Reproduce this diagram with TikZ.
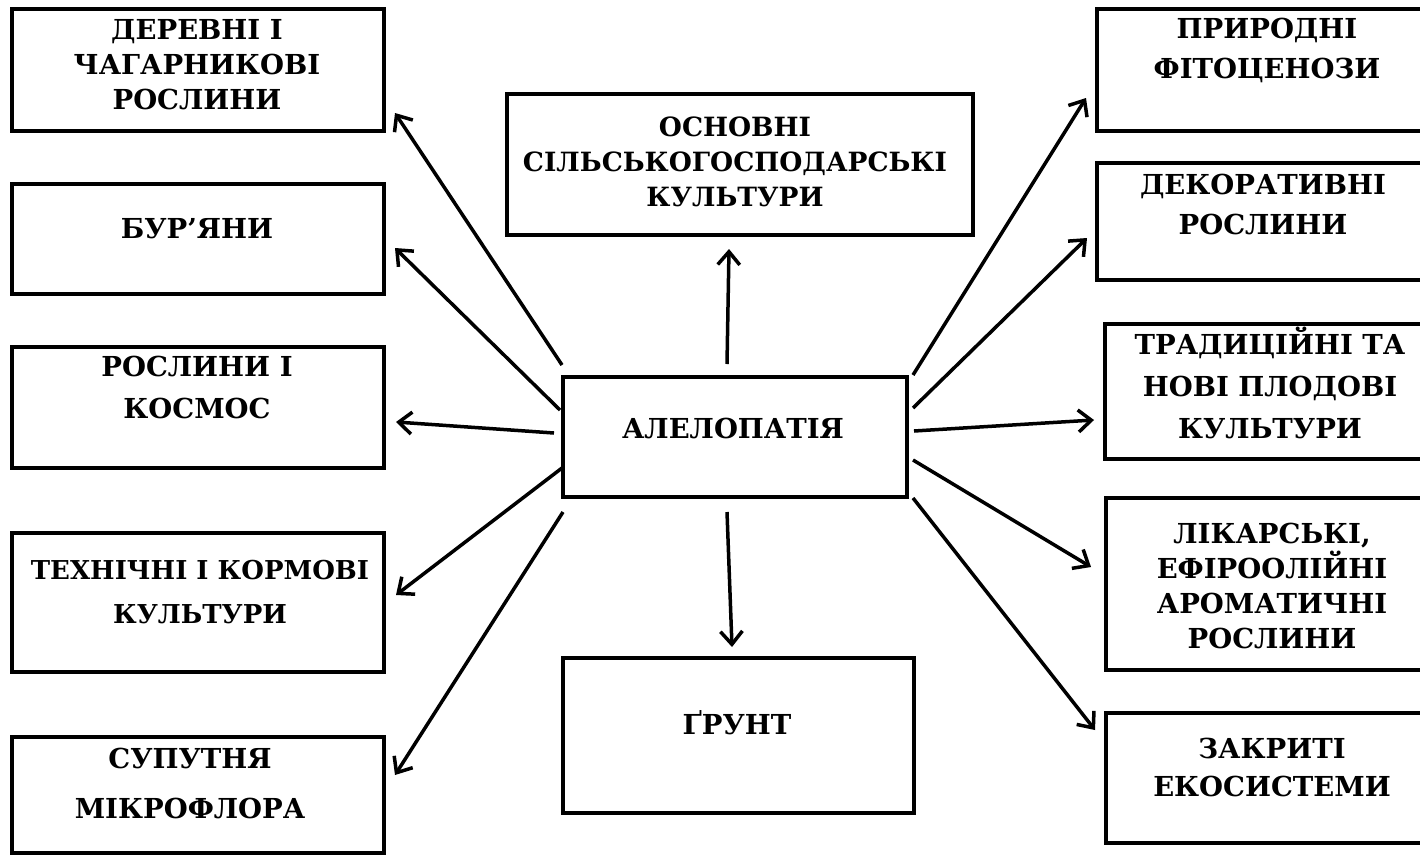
\documentclass[tikz,border=0pt]{standalone}
\usepackage{fontspec}
\setmainfont{DejaVu Serif}
\usetikzlibrary{arrows.meta}
\newcommand{\mystrut}{\rule{0pt}{30pt}}
\begin{document}
\begin{tikzpicture}[x=1pt,y=-1pt,
  box/.style={rectangle, draw, line width=3.8pt, inner sep=0pt},
  lbl/.style={anchor=north, align=center, inner sep=0pt, font=\bfseries\fontsize{27.5}{#1}\selectfont},
  lbl/.default=35,
  arr/.style={line width=3.5pt, -{Straight Barb[length=13pt,width=22pt]}}]
\clip (0,0) rectangle (1420,854);
\fill[white] (0,0) rectangle (1420,854);
% boxes
\node[box, minimum width=372pt, minimum height=122pt] (b1) at (198,70) {};
\node[box, minimum width=372pt, minimum height=110pt] (b2) at (198,239) {};
\node[box, minimum width=372pt, minimum height=121pt] (b3) at (198,407.5) {};
\node[box, minimum width=372pt, minimum height=139pt] (b4) at (198,602.5) {};
\node[box, minimum width=372pt, minimum height=116pt] (b5) at (198,795) {};
\node[box, minimum width=466pt, minimum height=141pt] (ctop) at (740,164.5) {};
\node[box, minimum width=344pt, minimum height=120pt] (alel) at (735,437) {};
\node[box, minimum width=351pt, minimum height=155pt] (grunt) at (738.5,735.5) {};
\node[box, minimum width=343pt, minimum height=122pt] (r1) at (1268.5,70) {};
\node[box, minimum width=343pt, minimum height=117pt] (r2) at (1268.5,221.5) {};
\node[box, minimum width=335pt, minimum height=135pt] (r3) at (1272.5,391.5) {};
\node[box, minimum width=334pt, minimum height=172pt] (r4) at (1273,584) {};
\node[box, minimum width=334pt, minimum height=130pt] (r5) at (1273,778) {};
% labels
\node[lbl] (t1) at (197,9) {\mystrut ДЕРЕВНІ І\\ЧАГАРНИКОВІ\\РОСЛИНИ};
\node[lbl] (t2) at (197,208) {\mystrut БУР’ЯНИ};
\node[lbl=42] (t3) at (197,346) {\mystrut РОСЛИНИ І\\КОСМОС};
\node[lbl=44, font=\bfseries\fontsize{26}{44}\selectfont] (t4) at (200,549) {\mystrut ТЕХНІЧНІ І КОРМОВІ\\КУЛЬТУРИ};
\node[lbl=50] (t5) at (190,738) {\mystrut СУПУТНЯ\\МІКРОФЛОРА};
\node[lbl, font=\bfseries\fontsize{26.5}{35}\selectfont] (t6) at (735,106) {\mystrut ОСНОВНІ\\СІЛЬСЬКОГОСПОДАРСЬКІ\\КУЛЬТУРИ};
\node[lbl] (t7) at (733,408) {\mystrut АЛЕЛОПАТІЯ};
\node[lbl] (t8) at (737,704) {\mystrut ҐРУНТ};
\node[lbl=40] (t9) at (1267,8) {\mystrut ПРИРОДНІ\\ФІТОЦЕНОЗИ};
\node[lbl=40] (t10) at (1263,164) {\mystrut ДЕКОРАТИВНІ\\РОСЛИНИ};
\node[lbl=42] (t11) at (1270,324) {\mystrut ТРАДИЦІЙНІ ТА\\НОВІ ПЛОДОВІ\\КУЛЬТУРИ};
\node[lbl] (t12) at (1272,513) {\mystrut ЛІКАРСЬКІ,\\ЕФІРООЛІЙНІ\\АРОМАТИЧНІ\\РОСЛИНИ};
\node[lbl=38] (t13) at (1272,728) {\mystrut ЗАКРИТІ\\ЕКОСИСТЕМИ};
% arrow end points
\coordinate (s1) at (562,365);  \coordinate (e1) at (395,113);
\coordinate (s2) at (560,410);  \coordinate (e2) at (395,248);
\coordinate (s3) at (554,433);  \coordinate (e3) at (396,422);
\coordinate (s4) at (562,468);  \coordinate (e4) at (396,595);
\coordinate (s5) at (563,512);  \coordinate (e5) at (395,775);
\coordinate (s6) at (727,364);  \coordinate (e6) at (729,249);
\coordinate (s7) at (727,512);  \coordinate (e7) at (732,647);
\coordinate (s8) at (913,375);  \coordinate (e8) at (1086,98);
\coordinate (s9) at (913,408);  \coordinate (e9) at (1087,238);
\coordinate (s10) at (914,431); \coordinate (e10) at (1094,420);
\coordinate (s11) at (913,460); \coordinate (e11) at (1091,567);
\coordinate (s12) at (913,498); \coordinate (e12) at (1095,730);
\foreach \i in {1,...,12} {\draw[arr] (s\i) -- (e\i);}
\end{tikzpicture}
\end{document}
